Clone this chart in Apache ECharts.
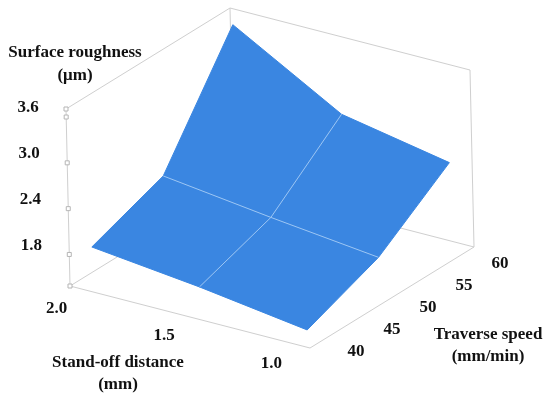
<!DOCTYPE html>
<html><head><meta charset="utf-8">
<script src="https://cdn.jsdelivr.net/npm/echarts@6/dist/echarts.min.js"></script>
<style>html,body{margin:0;padding:0;background:#fff}#c{width:550px;height:398px}</style>
</head><body><div id="c"></div>
<script>
// ---------- DATA ----------
const speeds = [40, 50, 60];          // Traverse speed (mm/min)
const distances = [2.0, 1.5, 1.0];    // Stand-off distance (mm)
// roughness[i][j] -> distance i, speed j (surface roughness, µm)
const roughness = [
  [1.86, 2.21, 3.61],
  [1.70, 2.03, 2.80],
  [1.50, 1.87, 2.53]
];
const zTicks = [1.8, 2.4, 3.0, 3.6];
const zTickLabels = ['1.8', '2.4', '3.0', '3.6'];
const distTicks = [2.0, 1.5, 1.0];
const distTickLabels = ['2.0', '1.5', '1.0'];
const speedTicks = [40, 45, 50, 55, 60];
const speedTickLabels = ['40', '45', '50', '55', '60'];

// ---------- BOX / PROJECTION (layout) ----------
const distRange = [2.059, 0.941];
const speedRange = [38.61, 61.39];
const zRange = [1.387, 3.705];
const O = [70, 286], U = [240, 62], V = [164, -101], W = [-4, -177];
function proj(d, s, z) {
  const u = (d - distRange[0]) / (distRange[1] - distRange[0]);
  const v = (s - speedRange[0]) / (speedRange[1] - speedRange[0]);
  const w = (z - zRange[0]) / (zRange[1] - zRange[0]);
  return [O[0] + u * U[0] + v * V[0] + w * W[0], O[1] + u * U[1] + v * V[1] + w * W[1]];
}
const SURF = '#3a86e1';
const GRIDC = '#9cc6f4';
const BOXC = '#cfcfcf';
const FONT = {fontFamily: '"Liberation Serif", serif', fontWeight: 'bold', fontSize: 17, fill: '#111'};

const d0 = distRange[0], d1 = distRange[1], s0 = speedRange[0], s1 = speedRange[1], z0 = zRange[0], z1 = zRange[1];
const boxEdges = [
  [[d0,s0,z0],[d1,s0,z0]], [[d1,s0,z0],[d1,s1,z0]], [[d1,s1,z0],[d0,s1,z0]], [[d0,s1,z0],[d0,s0,z0]],
  [[d0,s0,z0],[d0,s0,z1]], [[d0,s0,z1],[d0,s1,z1]], [[d0,s1,z1],[d0,s1,z0]],
  [[d0,s1,z1],[d1,s1,z1]], [[d1,s1,z1],[d1,s1,z0]]
];
const cells = [];
for (let i = 0; i < distances.length - 1; i++) for (let j = 0; j < speeds.length - 1; j++) cells.push([i, j]);
// interior grid lines: rows (fixed distance) and columns (fixed speed)
const gridLines = [];
for (let i = 1; i < distances.length - 1; i++) gridLines.push(speeds.map((s, j) => [distances[i], s, roughness[i][j]]));
for (let j = 1; j < speeds.length - 1; j++) gridLines.push(distances.map((d, i) => [d, speeds[j], roughness[i][j]]));

const labels = [];
zTicks.forEach((z, k) => { const p = proj(d0, s0, z); labels.push({p, dx: -38, dy: -9, t: zTickLabels[k]}); });
distTicks.forEach((d, k) => { const p = proj(d, s0, z0); labels.push({p, dx: -26, dy: 19, t: distTickLabels[k]}); });
speedTicks.forEach((s, k) => { const p = proj(d1, s, z0); labels.push({p, dx: 36, dy: 10, t: speedTickLabels[k]}); });
const tickMarks = [z0].concat(zTicks, [z1]);

const chart = echarts.init(document.getElementById('c'), null, {renderer: 'canvas'});
chart.setOption({
  animation: false,
  backgroundColor: '#fff',
  grid: {left: 0, right: 0, top: 0, bottom: 0},
  xAxis: {type: 'value', min: 0, max: 550, show: false},
  yAxis: {type: 'value', min: 0, max: 398, inverse: true, show: false},
  series: [
    {
      type: 'custom', coordinateSystem: 'cartesian2d', silent: true, clip: false, z: 1,
      data: boxEdges.map((e, k) => [k, 0]),
      renderItem: (params, api) => {
        const e = boxEdges[params.dataIndex];
        const a = api.coord(proj(...e[0])), b = api.coord(proj(...e[1]));
        return {type: 'line', shape: {x1: a[0], y1: a[1], x2: b[0], y2: b[1]}, style: {stroke: BOXC, lineWidth: 1}};
      }
    },
    {
      type: 'custom', coordinateSystem: 'cartesian2d', silent: true, clip: false, z: 2,
      data: cells,
      renderItem: (params, api) => {
        const i = api.value(0), j = api.value(1);
        const pts = [[i, j], [i + 1, j], [i + 1, j + 1], [i, j + 1]]
          .map(([a, b]) => api.coord(proj(distances[a], speeds[b], roughness[a][b])));
        return {type: 'polygon', shape: {points: pts}, style: {fill: SURF, stroke: SURF, lineWidth: 1}};
      }
    },
    {
      type: 'custom', coordinateSystem: 'cartesian2d', silent: true, clip: false, z: 3,
      data: gridLines.map((g, k) => [k, 0]),
      renderItem: (params, api) => {
        const pts = gridLines[params.dataIndex].map(p => api.coord(proj(...p)));
        return {type: 'polyline', shape: {points: pts}, style: {stroke: GRIDC, lineWidth: 1, fill: null}};
      }
    },
    {
      type: 'custom', coordinateSystem: 'cartesian2d', silent: true, clip: false, z: 4,
      data: tickMarks.map((t, k) => [k, 0]),
      renderItem: (params, api) => {
        const c = api.coord(proj(d0, s0, tickMarks[params.dataIndex]));
        return {type: 'rect', shape: {x: c[0] - 2, y: c[1] - 2, width: 4, height: 4}, style: {fill: '#fff', stroke: '#b5b5b5', lineWidth: 1}};
      }
    },
    {
      type: 'custom', coordinateSystem: 'cartesian2d', silent: true, clip: false, z: 5,
      data: labels.map((l, k) => [k, 0]),
      renderItem: (params, api) => {
        const l = labels[params.dataIndex];
        const c = api.coord(l.p);
        return {type: 'text', x: c[0] + l.dx, y: c[1] + l.dy,
          style: Object.assign({text: l.t, align: 'center', verticalAlign: 'middle'}, FONT)};
      }
    }
  ],
  graphic: [
    {type: 'text', x: 75, y: 53, style: Object.assign({text: 'Surface roughness', align: 'center', verticalAlign: 'middle'}, FONT)},
    {type: 'text', x: 75, y: 76, style: Object.assign({text: '(μm)', align: 'center', verticalAlign: 'middle'}, FONT)},
    {type: 'text', x: 118, y: 363, style: Object.assign({text: 'Stand-off distance', align: 'center', verticalAlign: 'middle'}, FONT)},
    {type: 'text', x: 118, y: 385, style: Object.assign({text: '(mm)', align: 'center', verticalAlign: 'middle'}, FONT)},
    {type: 'text', x: 488, y: 335, style: Object.assign({text: 'Traverse speed', align: 'center', verticalAlign: 'middle'}, FONT)},
    {type: 'text', x: 488, y: 357, style: Object.assign({text: '(mm/min)', align: 'center', verticalAlign: 'middle'}, FONT)}
  ]
});
</script>
</body></html>
